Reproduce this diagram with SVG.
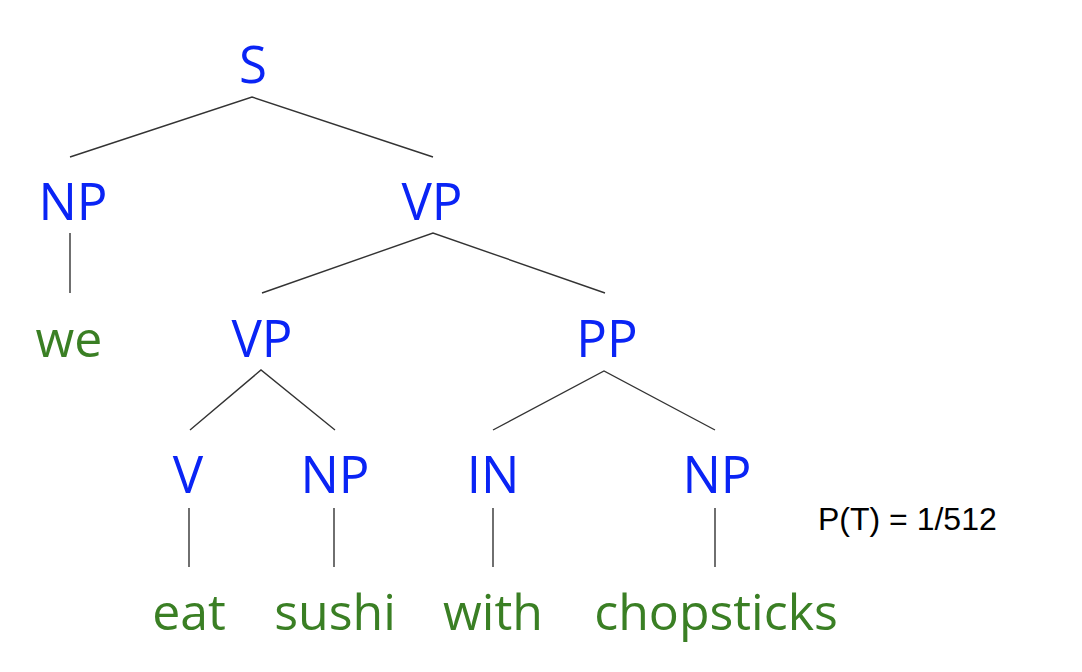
<svg xmlns="http://www.w3.org/2000/svg" width="1082" height="672" viewBox="0 0 1082 672">
<style>
.cat{font-family:"Open Sans","Noto Sans",sans-serif;font-size:51px;fill:#0a24f5;text-anchor:middle}
.word{font-family:"Open Sans","Noto Sans",sans-serif;font-size:50px;fill:#3a7f24;text-anchor:middle}
.prob{font-family:"Liberation Sans",Arial,sans-serif;font-size:32px;fill:#000}
.edge{stroke:#333;stroke-width:1.4;fill:none}
</style>
<rect width="1082" height="672" fill="#fff"/>
<g id="connectors">
<polyline class="edge" points="70,157 252,97 433,157"/>
<line class="edge" x1="70" y1="233" x2="70" y2="293"/>
<polyline class="edge" points="262,293 433,233 605,293"/>
<polyline class="edge" points="190,430 261,370 335,430"/>
<polyline class="edge" points="493,430 604,371 715,430"/>
<line class="edge" x1="189" y1="508" x2="189" y2="567"/>
<line class="edge" x1="334" y1="508" x2="334" y2="567"/>
<line class="edge" x1="493" y1="508" x2="493" y2="567"/>
<line class="edge" x1="715" y1="508" x2="715" y2="567"/>
</g>
<g id="S"><text class="cat" x="253" y="83">S</text></g>
<g id="NP1"><text class="cat" x="73" y="220">NP</text></g>
<g id="VP1"><text class="cat" x="432" y="220">VP</text></g>
<g id="we"><text class="word" x="69" y="357">we</text></g>
<g id="VP2"><text class="cat" x="262" y="357">VP</text></g>
<g id="PP"><text class="cat" x="607" y="357">PP</text></g>
<g id="V"><text class="cat" x="188" y="493">V</text></g>
<g id="NP2"><text class="cat" x="335" y="493">NP</text></g>
<g id="IN"><text class="cat" x="493" y="493">IN</text></g>
<g id="NP3"><text class="cat" x="717" y="493">NP</text></g>
<g id="eat"><text class="word" x="189" y="630">eat</text></g>
<g id="sushi"><text class="word" x="335" y="630">sushi</text></g>
<g id="with"><text class="word" x="493" y="630">with</text></g>
<g id="chopsticks"><text class="word" x="716" y="630">chopsticks</text></g>
<g id="prob"><text class="prob" x="818" y="530">P(T) = 1/512</text></g>
</svg>
